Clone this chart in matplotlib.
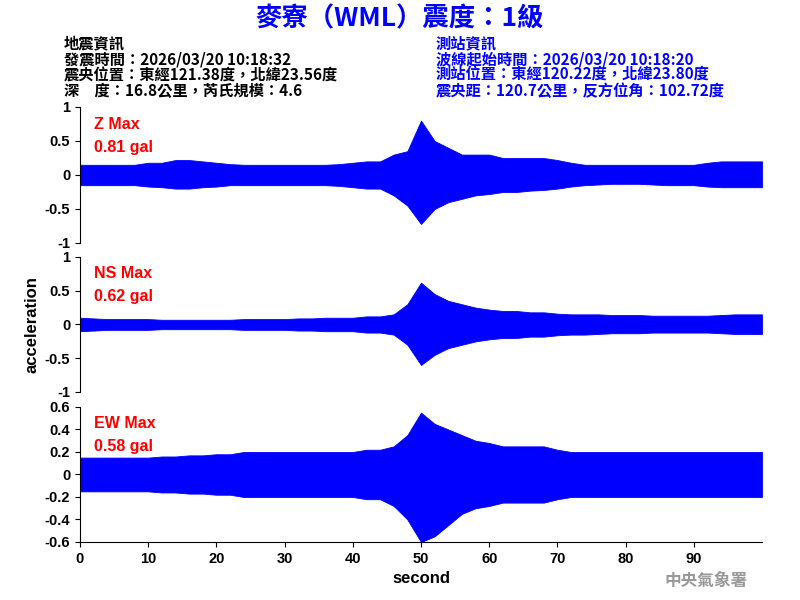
import matplotlib
matplotlib.use("Agg")
import matplotlib.pyplot as plt

plt.rcParams['font.family'] = ['Noto Sans CJK TC', 'DejaVu Sans']

t = list(range(0, 101, 2))
z_up = [.15,.15,.15,.15,.15,.18,.18,.22,.22,.2,.18,.16,.15,.15,.15,.15,.15,.15,.15,.16,.18,.2,.2,.3,.35,.8,.5,.4,.3,.3,.3,.25,.25,.25,.25,.22,.18,.15,.15,.15,.15,.15,.15,.15,.15,.15,.18,.2,.2,.2,.2]
z_lo = [-.15,-.15,-.15,-.15,-.15,-.17,-.18,-.2,-.2,-.18,-.17,-.15,-.15,-.15,-.15,-.15,-.15,-.15,-.15,-.16,-.18,-.2,-.2,-.3,-.45,-.72,-.5,-.4,-.35,-.3,-.28,-.25,-.25,-.23,-.22,-.2,-.17,-.15,-.14,-.13,-.13,-.13,-.14,-.15,-.15,-.15,-.17,-.18,-.18,-.18,-.18]
ns_up = [.1,.09,.08,.08,.08,.08,.07,.07,.07,.07,.07,.07,.08,.08,.08,.08,.09,.09,.1,.1,.1,.12,.12,.15,.3,.62,.45,.35,.3,.25,.22,.2,.2,.18,.18,.16,.15,.15,.15,.14,.14,.14,.13,.13,.13,.13,.13,.14,.15,.15,.15]
ns_lo = [-.1,-.09,-.08,-.08,-.08,-.08,-.07,-.07,-.07,-.07,-.07,-.07,-.08,-.08,-.08,-.08,-.09,-.09,-.1,-.1,-.1,-.12,-.12,-.15,-.3,-.6,-.45,-.35,-.3,-.25,-.22,-.2,-.2,-.18,-.18,-.16,-.15,-.15,-.14,-.13,-.13,-.13,-.12,-.12,-.12,-.12,-.12,-.13,-.14,-.14,-.14]
ew_up = [.15,.15,.15,.15,.15,.15,.16,.16,.17,.17,.18,.18,.2,.2,.2,.2,.2,.2,.2,.2,.2,.22,.22,.25,.35,.55,.45,.4,.35,.3,.28,.25,.25,.25,.25,.22,.2,.2,.2,.2,.2,.2,.2,.2,.2,.2,.2,.2,.2,.2,.2]
ew_lo = [-.15,-.15,-.15,-.15,-.15,-.15,-.16,-.16,-.17,-.17,-.18,-.18,-.2,-.2,-.2,-.2,-.2,-.2,-.2,-.2,-.2,-.22,-.22,-.28,-.4,-.6,-.55,-.45,-.35,-.3,-.28,-.25,-.25,-.25,-.25,-.22,-.2,-.2,-.2,-.2,-.2,-.2,-.2,-.2,-.2,-.2,-.2,-.2,-.2,-.2,-.2]

labels = ["Z Max", "NS Max", "EW Max"]
maxvals = ["0.81 gal", "0.62 gal", "0.58 gal"]
ylims = [(-1, 1), (-1, 1), (-0.6, 0.6)]
yticks = [[-1, -0.5, 0, 0.5, 1], [-1, -0.5, 0, 0.5, 1], [-0.6, -0.4, -0.2, 0, 0.2, 0.4, 0.6]]
ytl = [["-1", "-0.5", "0", "0.5", "1"], ["-1", "-0.5", "0", "0.5", "1"], ["-0.6", "-0.4", "-0.2", "0", "0.2", "0.4", "0.6"]]

LS = 'Liberation Sans'
fig = plt.figure(figsize=(8, 6), dpi=100)
rects = [(0.1, 0.595, 0.8525, 0.2267), (0.1, 0.3467, 0.8525, 0.225), (0.1, 0.0967, 0.8525, 0.225)]
data = [(z_up, z_lo), (ns_up, ns_lo), (ew_up, ew_lo)]
axes = []
for i, r in enumerate(rects):
    ax = fig.add_axes(r)
    up, lo = data[i]
    ax.fill_between(t, lo, up, color='blue', lw=0.6, edgecolor='blue')
    ax.set_xlim(0, 100)
    ax.set_ylim(*ylims[i])
    ax.set_yticks(yticks[i])
    ax.set_yticklabels(ytl[i], fontsize=10.5, family=LS, weight='bold')
    ax.spines['top'].set_visible(False)
    ax.spines['right'].set_visible(False)
    ax.text(0.02, 0.93, labels[i], transform=ax.transAxes, color='red', fontsize=11.5, va='top', family=LS, weight='bold')
    ax.text(0.02, 0.76, maxvals[i], transform=ax.transAxes, color='red', fontsize=11.5, va='top', family=LS, weight='bold')
    if i < 2:
        ax.set_xticks([])
        ax.spines['bottom'].set_visible(False)
    else:
        ax.set_xticks(range(0, 100, 10))
        ax.set_xticklabels([str(v) for v in range(0, 100, 10)], fontsize=10.5, family=LS, weight='bold')
        ax.set_xlabel("second", fontsize=12, family=LS, weight='bold')
    axes.append(ax)
axes[1].set_ylabel("acceleration", fontsize=12, family=LS, weight='bold')

fig.text(0.5, 0.968, "麥寮（WML）震度：1級", color='blue', fontsize=19, weight='bold', ha='center', va='center')
left = ["地震資訊", "發震時間：2026/03/20 10:18:32", "震央位置：東經121.38度，北緯23.56度", "深　度：16.8公里，芮氏規模：4.6"]
right = ["測站資訊", "波線起始時間：2026/03/20 10:18:20", "測站位置：東經120.22度，北緯23.80度", "震央距：120.7公里，反方位角：102.72度"]
for k, s in enumerate(left):
    fig.text(0.08, 0.928 - k * 0.0265, s, fontsize=11, weight='bold', color='black', va='center')
for k, s in enumerate(right):
    fig.text(0.545, 0.928 - k * 0.0265, s, fontsize=11, weight='bold', color='blue', va='center')
fig.text(0.935, 0.032, "中央氣象署", fontsize=12, weight='bold', color='#999999', ha='right', va='center')

fig.savefig("out.png", dpi=100)
